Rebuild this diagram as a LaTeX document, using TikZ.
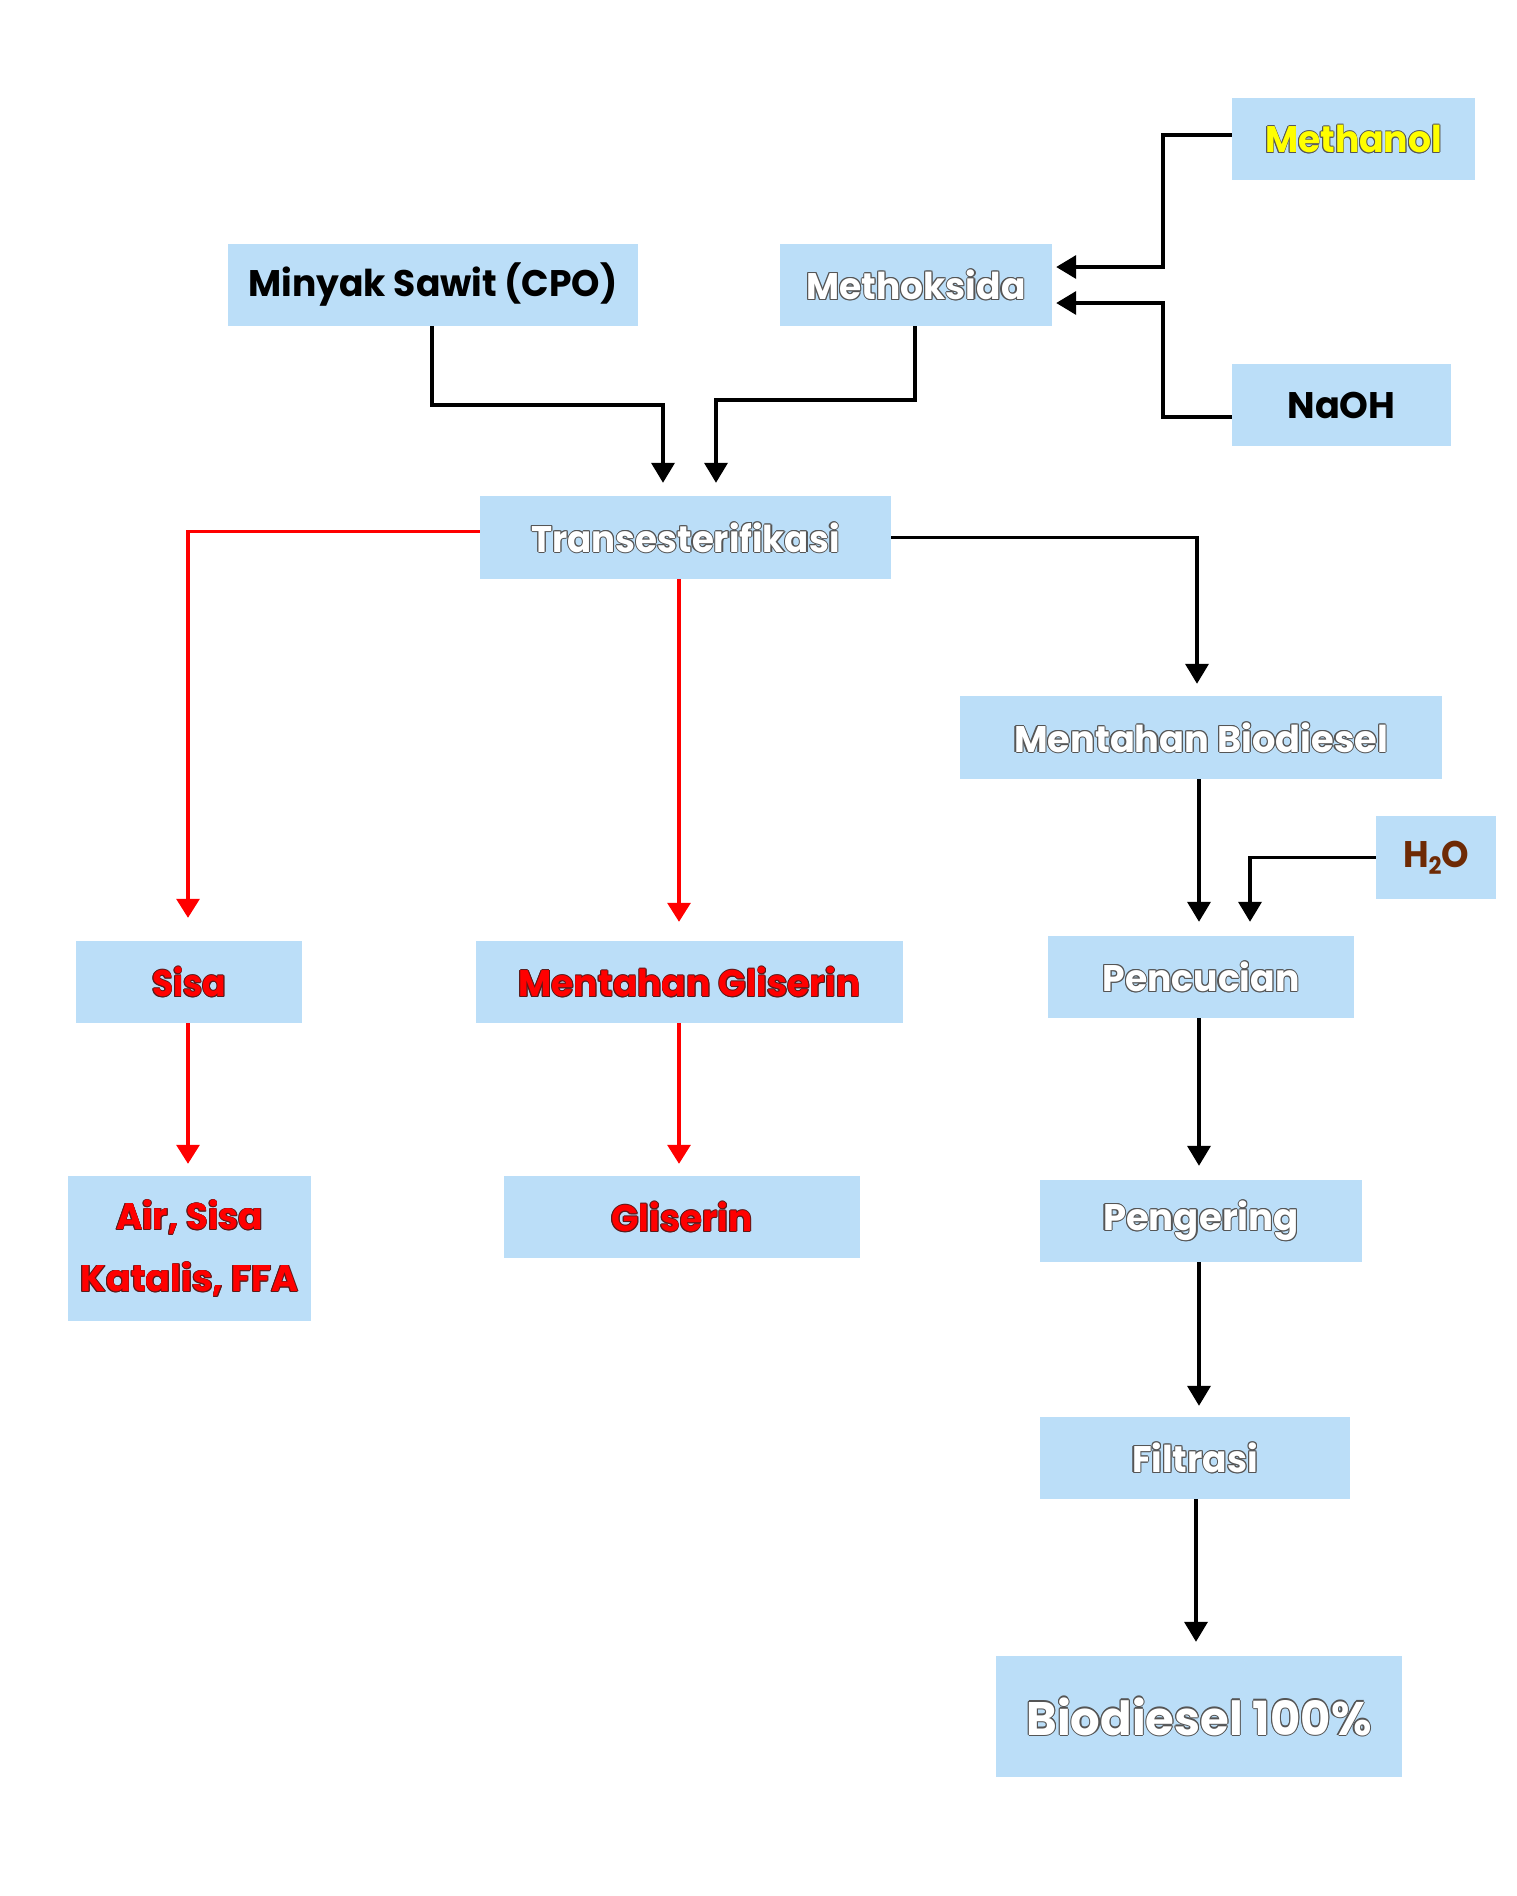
\documentclass[tikz,border=0pt]{standalone}
\usepackage{fontspec}
\setmainfont{Poppins}
\usetikzlibrary{arrows.meta}
\definecolor{boxblue}{HTML}{BBDEF8}
\definecolor{olgray}{HTML}{555555}
\definecolor{oldark}{HTML}{5A1A1A}
\definecolor{brn}{HTML}{6E2A05}
\definecolor{redt}{HTML}{FF0000}
\definecolor{ylw}{HTML}{FFFF00}
\newlength\ow
\setlength\ow{1.1pt}
\newdimen\fitwd
\newcommand\outlined[3]{%
  \begingroup
  \setbox0\hbox{#3}%
  \leavevmode
  \rlap{\kern\ow\textcolor{#2}{\copy0}}%
  \rlap{\kern-\ow\textcolor{#2}{\copy0}}%
  \rlap{\raisebox{\ow}{\textcolor{#2}{\copy0}}}%
  \rlap{\raisebox{-\ow}{\textcolor{#2}{\copy0}}}%
  \rlap{\kern0.7\ow\raisebox{0.7\ow}{\textcolor{#2}{\copy0}}}%
  \rlap{\kern-0.7\ow\raisebox{0.7\ow}{\textcolor{#2}{\copy0}}}%
  \rlap{\kern0.7\ow\raisebox{-0.7\ow}{\textcolor{#2}{\copy0}}}%
  \rlap{\kern-0.7\ow\raisebox{-0.7\ow}{\textcolor{#2}{\copy0}}}%
  \textcolor{#1}{\copy0}%
  \endgroup}
\newcommand\thinout[3]{{\setlength\ow{0.75pt}\outlined{#1}{#2}{#3}}}
\newcommand\fitw[2]{%
  \begingroup
  \setbox2\hbox{#2}%
  \fitwd=\wd2\relax
  \pgfmathsetmacro\fsx{#1/\fitwd}%
  \scalebox{\fsx}[1]{\box2}%
  \endgroup}
\tikzset{
  box/.style={fill=boxblue, inner sep=0pt, align=center,
    font=\bfseries\fontsize{37pt}{62pt}\selectfont},
  arr/.style={line width=3.6pt, black, -{Triangle[width=23pt,length=20pt]}},
  rarr/.style={line width=3.2pt, red, -{Triangle[width=23pt,length=19pt]}},
}
\begin{document}
\begin{tikzpicture}[x=1pt, y=-1pt]
\path[use as bounding box, fill=white] (0,0) rectangle (1516,1896);

% nodes
\node[box, minimum width=243pt, minimum height=82pt] (meth) at (1353.5,139)
  {\fitw{177}{\thinout{ylw}{olgray}{Methanol}}};
\node[box, minimum width=272pt, minimum height=82pt] (metk) at (916,285)
  {\fitw{219}{\outlined{white}{olgray}{Methoksida}}};
\node[box, minimum width=410pt, minimum height=82pt] (cpo) at (433,285)
  {\raisebox{-3pt}{\fitw{369}{Minyak Sawit (CPO)}}};
\node[box, minimum width=219pt, minimum height=82pt] (naoh) at (1341.5,405)
  {\fitw{108}{NaOH}};
\node[box, minimum width=411pt, minimum height=83pt] (trans) at (685.5,537.5)
  {\fitw{308}{\outlined{white}{olgray}{Transesterifikasi}}};
\node[box, minimum width=482pt, minimum height=83pt] (mbio) at (1201,737.5)
  {\fitw{374}{\outlined{white}{olgray}{Mentahan Biodiesel}}};
\node[box, minimum width=120pt, minimum height=83pt] (h2o) at (1436,857.5)
  {\raisebox{-3pt}{\fitw{66}{\textcolor{brn}{H\raisebox{-0.18em}{\fontsize{24pt}{24pt}\selectfont 2}O}}}};
\node[box, minimum width=306pt, minimum height=82pt] (penc) at (1201,977)
  {\fitw{197}{\outlined{white}{olgray}{Pencucian}}};
\node[box, minimum width=226pt, minimum height=82pt] (sisa) at (189,982)
  {\fitw{74}{\thinout{redt}{oldark}{Sisa}}};
\node[box, minimum width=427pt, minimum height=82pt] (mgli) at (689.5,982)
  {\fitw{342}{\thinout{redt}{oldark}{Mentahan Gliserin}}};
\node[box, minimum width=243pt, minimum height=145pt] (air) at (189.5,1248.5)
  {\fitw{147}{\thinout{redt}{oldark}{Air, Sisa}}\\
   \fitw{218}{\thinout{redt}{oldark}{Katalis, FFA}}};
\node[box, minimum width=356pt, minimum height=82pt] (gli) at (682,1217)
  {\fitw{141}{\thinout{redt}{oldark}{Gliserin}}};
\node[box, minimum width=322pt, minimum height=82pt] (peng) at (1201,1221)
  {\fitw{196}{\outlined{white}{olgray}{Pengering}}};
\node[box, minimum width=310pt, minimum height=82pt] (filt) at (1195,1458)
  {\fitw{126}{\outlined{white}{olgray}{Filtrasi}}};
\node[box, minimum width=406pt, minimum height=121pt,
  font=\bfseries\fontsize{47pt}{56pt}\selectfont] (bio) at (1199,1716.5)
  {\fitw{345}{\outlined{white}{olgray}{Biodiesel 100\%}}};

% connectors
\draw[arr] ([yshift=4pt]meth.west) -- ++(-69,0) |- ([xshift=4pt,yshift=18pt]metk.east);
\draw[arr] ([yshift=-12pt]naoh.west) -- ++(-69,0) |- ([xshift=4pt,yshift=-18pt]metk.east);
\draw[arr] ([xshift=-1pt]cpo.south) -- ++(0,79) -| ([xshift=-22.5pt,yshift=13pt]trans.north);
\draw[arr] ([xshift=-1pt]metk.south) -- ++(0,74) -| ([xshift=30.5pt,yshift=13pt]trans.north);
\draw[arr] (trans.east) -| ([xshift=-4pt,yshift=12pt]mbio.north);
\draw[rarr] ([yshift=6pt]trans.west) -| ([xshift=-1pt,yshift=23pt]sisa.north);
\draw[rarr] ([xshift=-6.5pt]trans.south) -- ([xshift=-10.5pt,yshift=19pt]mgli.north);
\draw[rarr] ([xshift=-1pt]sisa.south) -- ([xshift=-1.5pt,yshift=12pt]air.north);
\draw[rarr] ([xshift=-10.5pt]mgli.south) -- ([xshift=-3pt,yshift=12pt]gli.north);
\draw[arr] ([xshift=-2pt]mbio.south) -- ([xshift=-2pt,yshift=14pt]penc.north);
\draw[arr] (h2o.west) -| ([xshift=49pt,yshift=14pt]penc.north);
\draw[arr] ([xshift=-2pt]penc.south) -- ([xshift=-2pt,yshift=14pt]peng.north);
\draw[arr] ([xshift=-2pt]peng.south) -- ([xshift=4pt,yshift=11pt]filt.north);
\draw[arr] ([xshift=1pt]filt.south) -- ([xshift=-3pt,yshift=14pt]bio.north);
\end{tikzpicture}
\end{document}
